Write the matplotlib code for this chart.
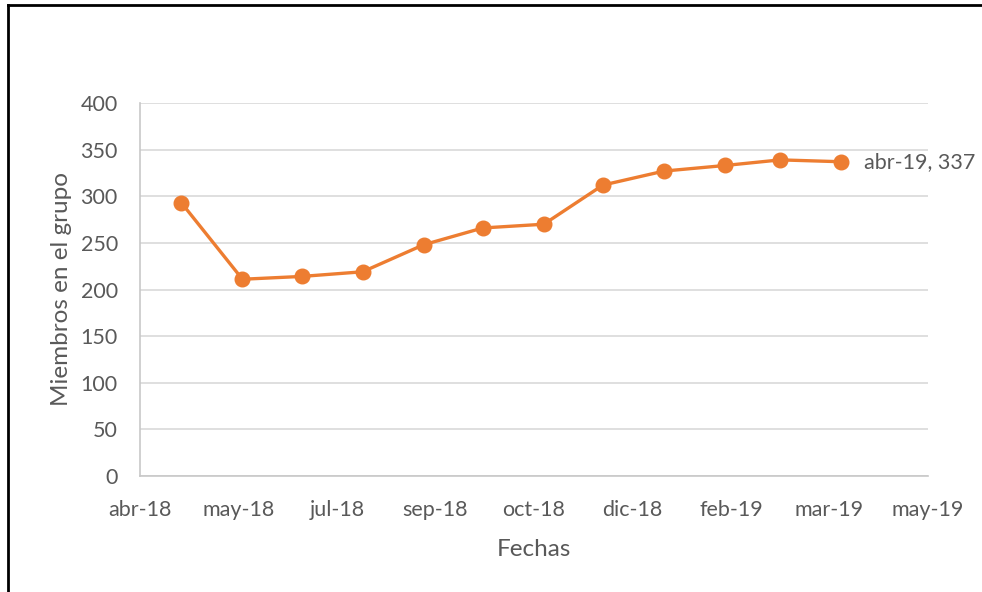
import datetime as dt
import matplotlib
matplotlib.use("Agg")
import matplotlib.pyplot as plt
import matplotlib.dates as mdates
from matplotlib.lines import Line2D

# datos
fechas = [dt.date(2018, m, 1) for m in range(5, 13)] + [dt.date(2019, m, 1) for m in range(1, 5)]
miembros = [293, 211, 214, 219, 248, 266, 270, 312, 327, 333, 339, 337]
meses = ["ene", "feb", "mar", "abr", "may", "jun", "jul", "ago", "sep", "oct", "nov", "dic"]

inicio = dt.date(2018, 4, 10)
fin = dt.date(2019, 5, 15)
ticks = [inicio + dt.timedelta(days=50 * i) for i in range(9)]

gris = "#595959"
naranja = "#ED7D31"
plt.rcParams['font.family'] = ['Lato', 'DejaVu Sans']

fig = plt.figure(figsize=(9.82, 5.92), dpi=100)
ax = fig.add_axes([140 / 982, 1 - 476 / 592, (928 - 140) / 982, (476 - 103) / 592])

ax.plot(fechas, miembros, color=naranja, lw=2.4, marker='o', ms=10.5, zorder=3)

ax.set_xlim(inicio, fin)
ax.set_ylim(0, 400)
ax.set_yticks(range(0, 401, 50))
ax.set_xticks(ticks)
ax.set_xticklabels([f"{meses[t.month - 1]}-{t.strftime('%y')}" for t in ticks])

ax.grid(axis='y', color='#d9d9d9', lw=1.2)
ax.set_axisbelow(True)
for s in ['top', 'right']:
    ax.spines[s].set_visible(False)
for s in ['left', 'bottom']:
    ax.spines[s].set_color('#c8c8c8')
    ax.spines[s].set_linewidth(1.2)
ax.tick_params(length=0, labelsize=15.5, colors=gris)
ax.tick_params(axis='x', pad=17)
ax.tick_params(axis='y', pad=16)

ax.set_xlabel("Fechas", fontsize=17.5, color=gris, labelpad=14)
ax.set_ylabel("Miembros en el grupo", fontsize=17.5, color=gris, labelpad=6)

ult = fechas[-1]
ax.annotate(f"{meses[ult.month - 1]}-{ult.strftime('%y')}, {miembros[-1]}",
            (mdates.date2num(ult), miembros[-1]), xytext=(16, 0),
            textcoords='offset points', va='center', ha='left',
            fontsize=15.5, color=gris)

# marco
fig.add_artist(Line2D([8 / 982, 8 / 982], [0, 1 - 5 / 592], color='black', lw=2, transform=fig.transFigure))
fig.add_artist(Line2D([8 / 982, 1], [1 - 5 / 592, 1 - 5 / 592], color='black', lw=2, transform=fig.transFigure))

fig.savefig("out.png", dpi=100)
